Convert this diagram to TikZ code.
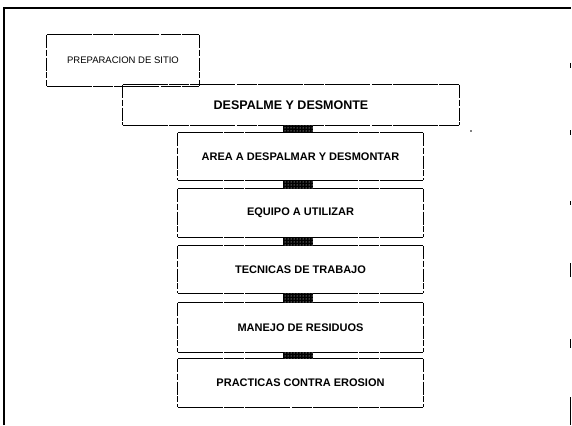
\documentclass[tikz,border=0pt]{standalone}
\usepackage{fontspec}
\setmainfont{Liberation Sans}
\usetikzlibrary{patterns}
\begin{document}
\begin{tikzpicture}[x=1pt,y=-1pt,
  stepbox/.style={draw=none,inner sep=0pt,align=center,font=\bfseries\fontsize{11}{13}\selectfont},
  hedge/.style={line width=1.2pt,dash pattern=on 45pt off 1.5pt on 20pt off 1pt},
  vedge/.style={line width=0.8pt,dash pattern=on 13pt off 1.8pt on 6pt off 2pt},
  conn/.style={fill=black,postaction={pattern=dots,pattern color=white}},
  frame/.style={line width=1.5pt}]
\useasboundingbox (0,0) rectangle (572,425);
% frame
\draw[frame] (4,425) -- (4,8) -- (571,8);
\foreach \ya/\yb in {63/68,130/135,201/205,263/277,339/348,397/425}
  \draw[line width=0.8pt] (570.5,\ya) -- (570.5,\yb);
% boxes
\node[stepbox,minimum width=152pt,minimum height=51pt,font=\fontsize{9.5}{11}\selectfont] (prep) at (123,60.5) {PREPARACION DE SITIO};
\node[stepbox,minimum width=336pt,minimum height=40pt,font=\bfseries\fontsize{12.5}{14}\selectfont] (desp) at (291,105) {DESPALME Y DESMONTE};
\node[stepbox,minimum width=245pt,minimum height=47pt] (area) at (300.5,156.5) {AREA A DESPALMAR Y DESMONTAR};
\node[stepbox,minimum width=245pt,minimum height=48pt] (equipo) at (300.5,213) {EQUIPO A UTILIZAR};
\node[stepbox,minimum width=245pt,minimum height=47pt] (tec) at (300.5,269.5) {TECNICAS DE TRABAJO};
\node[stepbox,minimum width=245pt,minimum height=49pt] (man) at (300.5,327.5) {MANEJO DE RESIDUOS};
\node[stepbox,minimum width=245pt,minimum height=48pt] (prac) at (300.5,383) {PRACTICAS CONTRA EROSION};
% box outlines
\foreach \n in {prep,desp,area,equipo,tec,man,prac}{
  \draw[hedge] (\n.north west) -- (\n.north east);
  \draw[hedge] (\n.south west) -- (\n.south east);
  \draw[vedge] (\n.north west) -- (\n.south west);
  \draw[vedge] (\n.north east) -- (\n.south east);
}
% connectors
\foreach \a/\b in {desp/area,area/equipo,equipo/tec,tec/man,man/prac}
  \fill[conn] ([xshift=-17.5pt]\b.north |- \a.south) rectangle ([xshift=12.5pt]\b.north);
% stray mark
\fill (471,131) circle (0.9pt);
\end{tikzpicture}
\end{document}
